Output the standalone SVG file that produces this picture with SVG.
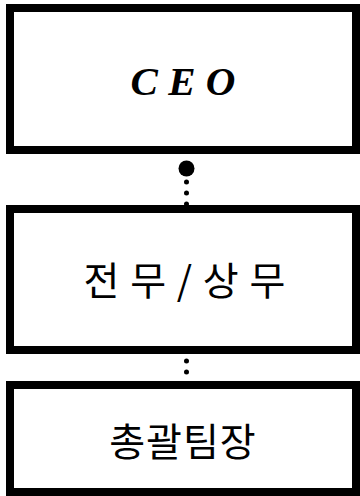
<svg xmlns="http://www.w3.org/2000/svg" width="360" height="496" viewBox="0 0 360 496">
<style>
.box{fill:#fff;stroke:#000;stroke-width:8}
.kr{font-family:"Noto Sans CJK KR","Noto Sans",sans-serif;font-size:39px;font-weight:400;fill:#000;text-anchor:middle}
.en{font-family:"Liberation Serif","Times New Roman",serif;font-size:41px;font-weight:bold;font-style:italic;fill:#000;text-anchor:middle}
.dots{fill:none;stroke:#000;stroke-width:5;stroke-linecap:round;stroke-dasharray:0 11}
</style>
<rect width="360" height="496" fill="#fff"/>
<g id="connectors">
<line class="dots" x1="186.5" y1="171" x2="186.5" y2="206"/>
<circle cx="186.5" cy="168.5" r="8" fill="#000"/>
<line class="dots" x1="186.5" y1="361" x2="186.5" y2="381"/>
</g>
<g id="ceo">
<rect class="box" x="10" y="8" width="346" height="142"/>
<text class="en" x="183" y="95">C E O</text>
</g>
<g id="executive">
<rect class="box" x="10" y="209" width="346" height="141"/>
<text class="kr" x="184.5" y="295" word-spacing="2">전 무 / 상 무</text>
</g>
<g id="general-team-leader">
<rect class="box" x="10" y="385" width="346" height="107"/>
<text class="kr" x="183" y="456" letter-spacing="1">총괄팀장</text>
</g>
</svg>
